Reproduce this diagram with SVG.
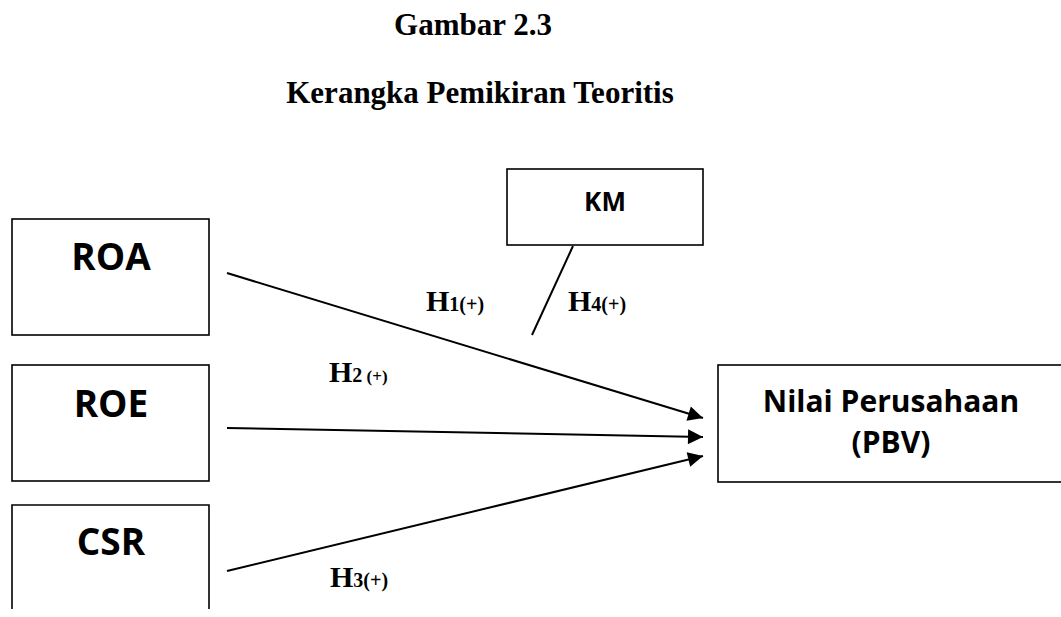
<svg xmlns="http://www.w3.org/2000/svg" width="1061" height="617" viewBox="0 0 1061 617">
<defs>
<style>
.box{fill:#fff;stroke:#000;stroke-width:1.6}
.lbl{font-family:"Open Sans","Liberation Sans",sans-serif;font-weight:bold;fill:#000;text-anchor:middle}
.ttl{font-family:"Liberation Serif","Times New Roman",serif;font-weight:bold;font-size:31px;fill:#000;text-anchor:middle}
.h{font-family:"Liberation Serif","Times New Roman",serif;font-weight:bold;fill:#000}
.edge{stroke:#000;stroke-width:2;fill:none}
</style>
<marker id="arr" viewBox="0 0 10 10" refX="10" refY="5" markerWidth="9" markerHeight="7.5" markerUnits="strokeWidth" orient="auto">
<path d="M0,0 L10,5 L0,10 Z" fill="#000"/>
</marker>
</defs>
<rect width="1061" height="617" fill="#fff"/>
<text class="ttl" x="473" y="35">Gambar 2.3</text>
<text class="ttl" x="480" y="103">Kerangka Pemikiran Teoritis</text>

<g id="node-roa">
<rect class="box" x="12" y="219" width="197" height="116"/>
<text class="lbl" x="111" y="270" font-size="37">ROA</text>
</g>
<g id="node-roe">
<rect class="box" x="12" y="365" width="197" height="116"/>
<text class="lbl" x="111" y="417" font-size="37">ROE</text>
</g>
<g id="node-csr">
<path class="box" d="M12,609 L12,505 L209,505 L209,609"/>
<text class="lbl" x="111" y="555" font-size="37">CSR</text>
</g>
<g id="node-km">
<rect class="box" x="507" y="169" width="196" height="76"/>
<text class="lbl" x="605" y="211" font-size="26">KM</text>
</g>
<g id="node-pbv">
<rect class="box" x="718" y="365" width="360" height="117"/>
<text class="lbl" x="891" y="412" font-size="30">Nilai Perusahaan</text>
<text class="lbl" x="891" y="453" font-size="30">(PBV)</text>
</g>

<g id="connectors">
<line class="edge" x1="227" y1="273" x2="703" y2="418" marker-end="url(#arr)"/>
<line class="edge" x1="227" y1="428" x2="703" y2="437" marker-end="url(#arr)"/>
<line class="edge" x1="227" y1="571" x2="703" y2="456" marker-end="url(#arr)"/>
<line class="edge" x1="573" y1="246" x2="532" y2="335" stroke-width="1.6"/>
</g>

<g id="labels">
<text class="h" x="426" y="311"><tspan font-size="30">H</tspan><tspan font-size="20">1(+)</tspan></text>
<text class="h" x="568" y="311"><tspan font-size="30">H</tspan><tspan font-size="20">4(+)</tspan></text>
<text class="h" x="329" y="382"><tspan font-size="30">H</tspan><tspan font-size="20">2</tspan><tspan font-size="17"> (+)</tspan></text>
<text class="h" x="330" y="587"><tspan font-size="30">H</tspan><tspan font-size="20">3(+)</tspan></text>
</g>
</svg>
